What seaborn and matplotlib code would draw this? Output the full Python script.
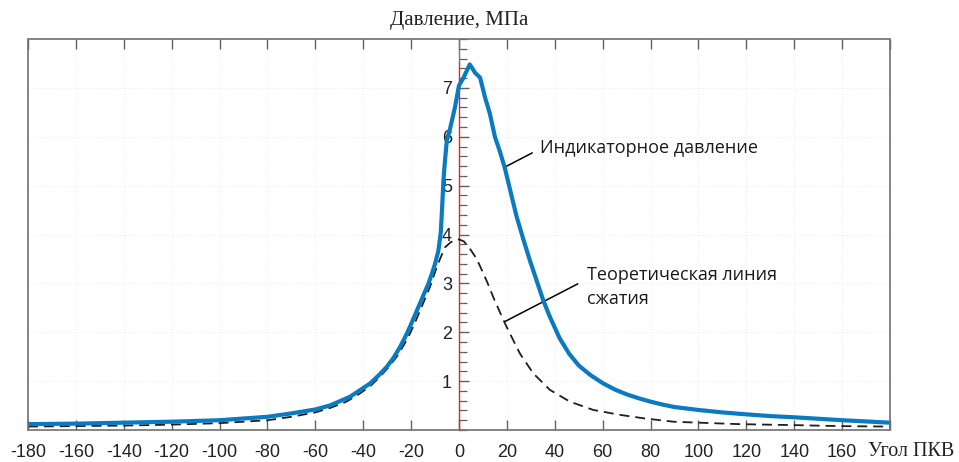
import matplotlib
matplotlib.use("Agg")
import matplotlib.pyplot as plt
from matplotlib.patches import Rectangle
from matplotlib.ticker import MultipleLocator, FixedLocator
import seaborn as sns
import pandas as pd

# ---- data ----
angle_ind = [-180, -160, -140, -120, -100, -80, -70, -60, -54, -45.5, -37.2, -33.5, -30.2,
             -27.3, -24.6, -22.5, -20.5, -18.4, -16.3, -14.5, -12.8, -11.3, -10, -8.6,
             -7.6, -7.0, -6.5, -6.1, -5.1, -3.8, -1.7, 0, 1.8, 4.5, 6.7, 8.8, 10.9, 12.9,
             15, 17, 19.2, 22, 24.1, 27, 29.6, 32.4, 35.2, 38, 42, 46, 50, 55, 60, 65,
             70, 75, 80, 85, 90, 100, 110, 120, 130, 140, 150, 160, 170, 180]
p_ind = [0.12, 0.13, 0.15, 0.17, 0.20, 0.27, 0.34, 0.42, 0.50, 0.68, 0.95, 1.12, 1.29,
         1.48, 1.70, 1.90, 2.11, 2.35, 2.59, 2.80, 2.99, 3.20, 3.40, 3.67,
         4.05, 4.6, 5.1, 5.37, 5.92, 6.15, 6.6, 7.05, 7.2, 7.48, 7.31, 7.21, 6.8, 6.47,
         6.0, 5.71, 5.35, 4.78, 4.36, 3.88, 3.47, 3.06, 2.65, 2.31, 1.88, 1.56, 1.32, 1.12,
         0.96, 0.83, 0.73, 0.65, 0.58, 0.52, 0.47, 0.41, 0.36, 0.32, 0.285, 0.26, 0.23,
         0.20, 0.175, 0.15]

angle_th = [-180, -160, -140, -120, -100, -80, -70, -60, -53.9, -47, -41.3, -37, -33,
            -29.5, -26, -23, -20.5, -18, -15.6, -12.1, -9.3, -7.5, -5.8, -3.5, -1.5, 0,
            2, 4, 7.4, 10.2, 12, 14.3, 17, 19.2, 21.3, 25.5, 31, 38, 46.3, 56.1, 67.2, 77,
            89.4, 100, 117, 140, 159, 180]
p_th = [0.07, 0.08, 0.09, 0.11, 0.14, 0.20, 0.27, 0.36, 0.45, 0.58, 0.75, 0.90, 1.09,
        1.28, 1.50, 1.74, 1.97, 2.24, 2.52, 2.93, 3.33, 3.55, 3.74, 3.84, 3.89, 3.9,
        3.86, 3.75, 3.5, 3.2, 3.0, 2.72, 2.42, 2.18, 1.97, 1.56, 1.16, 0.82, 0.58, 0.41,
        0.31, 0.24, 0.17, 0.15, 0.12, 0.10, 0.08, 0.07]

x_ticks = list(range(-180, 181, 20))
x_tick_labels = [str(v) for v in range(-180, 161, 20)] + [""]
y_ticks = [1, 2, 3, 4, 5, 6, 7]

title = "Давление, МПа"
x_label = "Угол ПКВ"
label_ind = "Индикаторное давление"
label_th = "Теоретическая линия\nсжатия"

# ---- style ----
sns.set_style("white")
plt.rcParams["font.family"] = ["Liberation Sans", "DejaVu Sans"]
plt.rcParams["axes.unicode_minus"] = False

fig = plt.figure(figsize=(9.59, 4.62), dpi=100)
ax = fig.add_axes([28 / 959, 32 / 462, 862 / 959, 391 / 462])

df_ind = pd.DataFrame({"angle": angle_ind, "p": p_ind})
df_th = pd.DataFrame({"angle": angle_th, "p": p_th})

sns.lineplot(data=df_th, x="angle", y="p", ax=ax, color="#1e1e1e", linewidth=1.3,
             estimator=None, zorder=3)
ax.lines[-1].set_dashes((5.5, 3.3))
sns.lineplot(data=df_ind, x="angle", y="p", ax=ax, color="#0b7bc1", linewidth=3.0,
             estimator=None, zorder=4)
ax.lines[-1].set_solid_joinstyle("round")

ax.set_xlim(-180, 180)
ax.set_ylim(0, 8)
ax.set_xlabel("")
ax.set_ylabel("")

# grid
ax.set_xticks(x_ticks)
ax.set_xticklabels(x_tick_labels)
ax.yaxis.set_major_locator(FixedLocator(y_ticks))
ax.yaxis.set_minor_locator(MultipleLocator(0.2))
ax.grid(True, which="major", color="#eeeeee", linestyle=":", linewidth=0.8)

# spines: y axis through x = 0
for s in ["top", "right", "bottom"]:
    ax.spines[s].set_visible(False)
ax.spines["left"].set_position(("data", 0))
ax.spines["left"].set_color("#e0262b")
ax.spines["left"].set_linewidth(1.0)
ax.spines["left"].set_bounds(0, 7.5)
ax.axvline(0, ymin=7.5 / 8, ymax=1, color="#777777", linewidth=1.0)
ax.add_patch(Rectangle((0, 0), 1, 1, transform=ax.transAxes, fill=False,
                       edgecolor="#707070", linewidth=1.2, clip_on=False, zorder=5))

ax.tick_params(axis="x", which="major", direction="in", length=7, width=1.0,
               color="#606060", top=True, bottom=True, labelsize=13, pad=10,
               labelcolor="#222222")
ax.tick_params(axis="y", which="major", direction="in", length=7, width=1.0,
               color="#606060", left=True, labelsize=13, pad=5, labelcolor="#222222")
ax.tick_params(axis="y", which="minor", direction="in", length=6, width=0.9,
               color="#606060", left=True)

ax.set_title(title, fontsize=15, family=["Liberation Serif", "DejaVu Serif"],
             color="#222222", pad=10)
fig.text(911 / 959, 1 - 452 / 462, x_label, fontsize=14.5,
         family=["Liberation Serif", "DejaVu Serif"], color="#222222",
         ha="center", va="center")

# annotations
ax.annotate("", xy=(18.8, 5.37), xytext=(30.6, 5.67),
            arrowprops=dict(arrowstyle="-", color="black", lw=1.1, shrinkA=0, shrinkB=0))
ax.text(33.8, 5.78, label_ind, fontsize=13, family=["Open Sans", "DejaVu Sans"],
        ha="left", va="center", color="#1a1a1a")
ax.annotate("", xy=(19.2, 2.22), xytext=(49.6, 2.99),
            arrowprops=dict(arrowstyle="-", color="black", lw=1.1, shrinkA=0, shrinkB=0))
ax.text(53.6, 2.92, label_th, fontsize=13, family=["Open Sans", "DejaVu Sans"],
        ha="left", va="center", color="#1a1a1a", linespacing=1.45)

fig.savefig("out.png", dpi=100, facecolor="white")
